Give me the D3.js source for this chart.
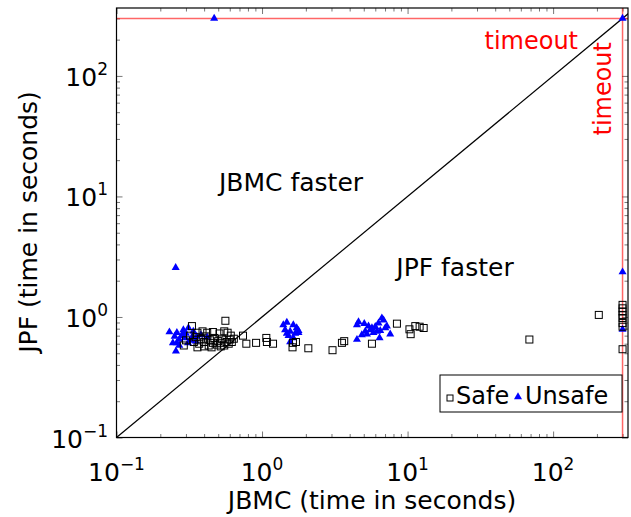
<!DOCTYPE html>
<html>
<head>
<meta charset="utf-8">
<style>
body { margin: 0; background: #fff; }
svg { font-family: "DejaVu Sans", sans-serif; }
.tick line { stroke: #777; }
.axis .domain { display: none; }
</style>
</head>
<body>
<svg width="631" height="517" class="scatter"></svg>
<script src="https://cdn.jsdelivr.net/npm/d3@7"></script>
<script>

var timeout = 300;
var majorTicks = [0.1, 1, 10, 100];
var tickExps = ["\u22121", "0", "1", "2"];

// Safe (squares): [JBMC, JPF]
var safe = [
  [0.33,0.84],[0.56,0.93],[0.36,0.74],[0.39,0.76],[0.42,0.74],[0.46,0.75],[0.51,0.73],[0.55,0.76],[0.58,0.74],
  [0.35,0.68],[0.38,0.66],[0.41,0.69],[0.44,0.64],[0.47,0.67],[0.50,0.63],[0.53,0.66],[0.57,0.62],[0.60,0.65],
  [0.34,0.62],[0.37,0.60],[0.40,0.62],[0.43,0.58],[0.46,0.61],[0.49,0.59],[0.52,0.61],[0.55,0.58],[0.59,0.60],[0.62,0.62],
  [0.36,0.56],[0.40,0.57],[0.45,0.56],[0.52,0.57],[0.32,0.70],[0.30,0.64],[0.29,0.58],[0.64,0.66],[0.61,0.70],
  [0.74,0.70],[0.78,0.60],[0.91,0.61],[1.07,0.67],[1.08,0.62],[1.19,0.60],
  [1.63,0.61],[1.62,0.56],[1.71,0.62],[2.08,0.55],[3.05,0.53],[3.54,0.61],[3.67,0.63],[5.69,0.60],
  [8.45,0.88],[10.3,0.79],[10.5,0.72],[11.3,0.84],[12.1,0.83],[12.9,0.81],[68.7,0.65],[206,1.04],
  [300,1.26],[300,1.18],[300,1.11],[300,1.04],[300,0.98],[300,0.89],[300,0.83],[300,0.54]
];

// Unsafe (triangles): [JBMC, JPF]
var unsafe = [
  [0.255,2.57],[0.469,300],[300,300],[300,2.36],[300,0.79],
  [0.231,0.75],[0.251,0.69],[0.244,0.61],[0.259,0.61],[0.256,0.52],[0.288,0.78],[0.300,0.73],[0.312,0.81],
  [0.337,0.76],[0.356,0.69],[0.296,0.67],[0.320,0.64],[0.31,0.61],[0.27,0.65],[0.28,0.70],[0.33,0.68],
  [0.29,0.74],[0.35,0.63],[0.26,0.74],[0.38,0.71],[0.42,0.68],[0.27,0.58],
  [1.40,0.86],[1.48,0.90],[1.64,0.86],[1.73,0.81],[1.44,0.78],[1.56,0.76],[1.69,0.73],[1.78,0.74],
  [1.52,0.70],[1.64,0.67],[1.56,0.62],[1.78,0.77],[1.48,0.73],
  [4.60,0.91],[5.04,0.88],[4.49,0.86],[5.39,0.84],[5.69,0.81],[6.00,0.83],[6.31,0.89],[6.66,0.98],
  [6.84,0.94],[7.21,0.84],[6.16,0.76],[5.54,0.78],[5.12,0.76],[4.85,0.71],[5.26,0.72],[5.83,0.74],
  [6.49,0.77],[7.03,0.81],[7.60,0.72],[6.42,0.67],[4.49,0.65]
];

var svg = d3.select(".scatter"),
    pLeft = 116.5, pRight = 628, pTop = 8, pBottom = 437.5;

var x = d3.scaleLog().domain([0.1, 327]).range([pLeft, pRight]);
var y = d3.scaleLog().domain([0.1, 366]).range([pBottom, pTop]);

var minorTicks = [];
for (var e = -1; e <= 2; e++)
  for (var k = 2; k <= 9; k++) {
    var v = k * Math.pow(10, e);
    if (v < 327) minorTicks.push(v);
  }

function addAxis(gen, scale, vals, size, tx, ty) {
  svg.append("g")
      .attr("class", "axis")
      .attr("transform", "translate(" + tx + "," + ty + ")")
      .call(gen(scale).tickValues(vals).tickSize(size).tickFormat(""));
}
// ticks on all four sides, pointing inward
addAxis(d3.axisBottom, x, minorTicks, -3.5, 0, pBottom);
addAxis(d3.axisBottom, x, majorTicks, -6, 0, pBottom);
addAxis(d3.axisTop, x, minorTicks, -3.5, 0, pTop);
addAxis(d3.axisTop, x, majorTicks, -6, 0, pTop);
addAxis(d3.axisLeft, y, minorTicks, -3.5, pLeft, 0);
addAxis(d3.axisLeft, y, majorTicks, -6, pLeft, 0);
addAxis(d3.axisRight, y, minorTicks, -3.5, pRight, 0);
addAxis(d3.axisRight, y, majorTicks, -6, pRight, 0);

svg.append("clipPath").attr("id", "clip")
  .append("rect").attr("x", pLeft).attr("y", pTop)
  .attr("width", pRight - pLeft).attr("height", pBottom - pTop);

var plot = svg.append("g").attr("clip-path", "url(#clip)");

// diagonal
plot.append("line")
    .attr("x1", x(0.1)).attr("y1", y(0.1))
    .attr("x2", x(1000)).attr("y2", y(1000))
    .attr("stroke", "#000").attr("stroke-width", 1.2);

// timeout lines
plot.append("line")
    .attr("x1", pLeft).attr("x2", pRight)
    .attr("y1", y(timeout)).attr("y2", y(timeout))
    .attr("stroke", "#ff0000").attr("stroke-opacity", 0.6).attr("stroke-width", 1.5);
plot.append("line")
    .attr("x1", x(timeout)).attr("x2", x(timeout))
    .attr("y1", pTop).attr("y2", pBottom)
    .attr("stroke", "#ff0000").attr("stroke-opacity", 0.6).attr("stroke-width", 1.5);

var tri = d3.symbol().type(d3.symbolTriangle).size(28);

plot.selectAll(".unsafe")
  .data(unsafe)
  .enter().append("path")
    .attr("class", "unsafe")
    .attr("transform", function(d) { return "translate(" + x(d[0]) + "," + y(d[1]) + ")"; })
    .attr("d", tri)
    .attr("fill", "#0000ff");

plot.selectAll(".safe")
  .data(safe)
  .enter().append("rect")
    .attr("class", "safe")
    .attr("x", function(d) { return x(d[0]) - 3.5; })
    .attr("y", function(d) { return y(d[1]) - 3.5; })
    .attr("width", 7).attr("height", 7)
    .attr("fill", "none")
    .attr("stroke", "#000").attr("stroke-width", 1);

// frame
svg.append("rect")
    .attr("x", pLeft).attr("y", pTop)
    .attr("width", pRight - pLeft).attr("height", pBottom - pTop)
    .attr("fill", "none").attr("stroke", "#000").attr("stroke-width", 1.2);

// tick labels
function powLabel(sel, i) {
  sel.append("tspan").text("10");
  sel.append("tspan").attr("dy", -11).attr("font-size", 17).text(tickExps[i]);
}
majorTicks.forEach(function(v, i) {
  var t = svg.append("text")
      .attr("x", x(v)).attr("y", 481)
      .attr("text-anchor", "middle")
      .attr("font-size", 25);
  powLabel(t, i);
  var s = svg.append("text")
      .attr("x", 108).attr("y", y(v) + 10)
      .attr("text-anchor", "end")
      .attr("font-size", 25);
  powLabel(s, i);
});

svg.append("text")
    .attr("x", 372).attr("y", 509)
    .attr("text-anchor", "middle")
    .attr("font-size", 25)
    .text("JBMC (time in seconds)");

svg.append("text")
    .attr("transform", "translate(37,222) rotate(-90)")
    .attr("text-anchor", "middle")
    .attr("font-size", 25)
    .text("JPF (time in seconds)");

svg.append("text")
    .attr("x", 291).attr("y", 191)
    .attr("text-anchor", "middle")
    .attr("font-size", 25)
    .text("JBMC faster");
svg.append("text")
    .attr("x", 455).attr("y", 276)
    .attr("text-anchor", "middle")
    .attr("font-size", 25)
    .text("JPF faster");

svg.append("text")
    .attr("x", 578).attr("y", 49)
    .attr("text-anchor", "end")
    .attr("font-size", 24)
    .attr("fill", "#ff0000")
    .text("timeout");
svg.append("text")
    .attr("transform", "translate(611,42) rotate(-90)")
    .attr("text-anchor", "end")
    .attr("font-size", 24)
    .attr("fill", "#ff0000")
    .text("timeout");

// legend
var lg = svg.append("g");
lg.append("rect")
    .attr("x", 440).attr("y", 375).attr("width", 182).attr("height", 37)
    .attr("fill", "#fff").attr("stroke", "#000").attr("stroke-width", 1);
lg.append("rect")
    .attr("x", 447).attr("y", 395).attr("width", 6).attr("height", 6)
    .attr("fill", "none").attr("stroke", "#000");
lg.append("text")
    .attr("x", 456).attr("y", 404).attr("font-size", 24).text("Safe");
lg.append("path")
    .attr("transform", "translate(518,397)")
    .attr("d", tri).attr("fill", "#0000ff");
lg.append("text")
    .attr("x", 525).attr("y", 404).attr("font-size", 24).text("Unsafe");

</script>
</body>
</html>
